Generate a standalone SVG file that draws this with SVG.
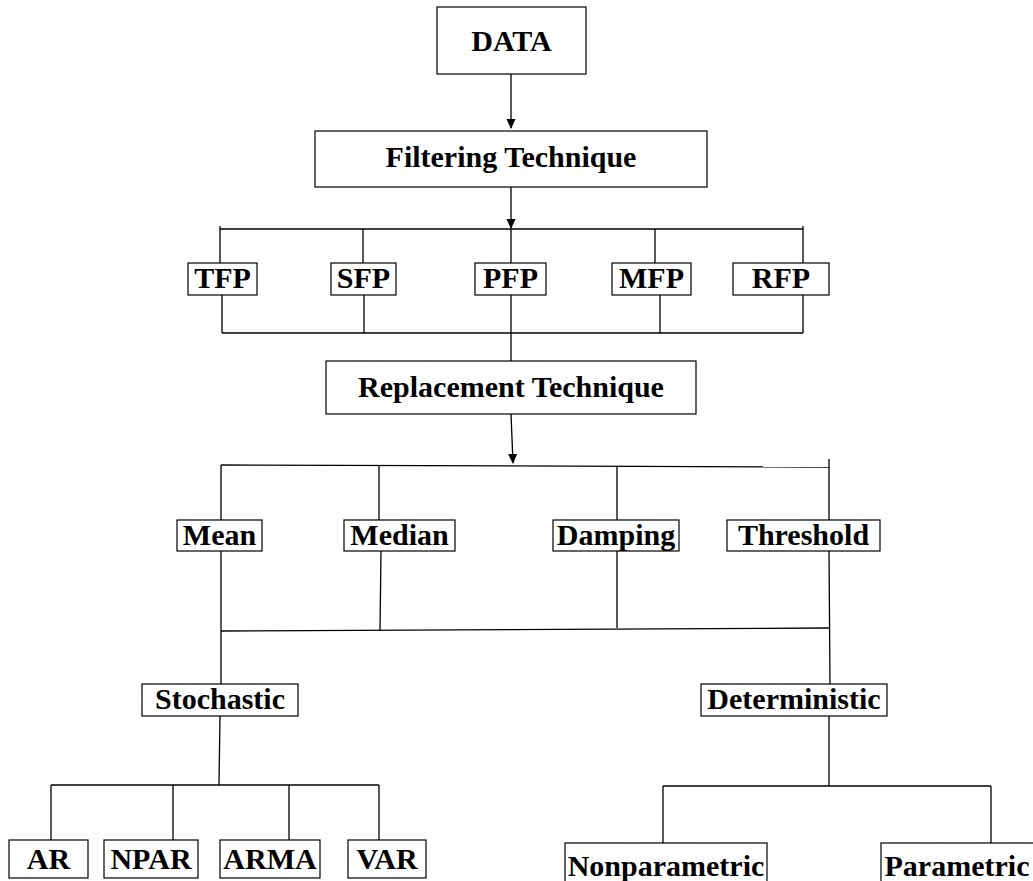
<svg xmlns="http://www.w3.org/2000/svg" width="1033" height="881" viewBox="0 0 1033 881">
<defs>
<marker id="arr" markerWidth="10" markerHeight="10" refX="9" refY="4.5" orient="auto" markerUnits="userSpaceOnUse">
<path d="M0,0 L10,4.5 L0,9 Z" fill="#000"/>
</marker>
<style>
.box{fill:#fff;stroke:#000;stroke-width:1.2}
.lbl{font-family:"Liberation Serif","Times New Roman",serif;font-weight:bold;font-size:30px;fill:#000;text-anchor:middle}
.ln{fill:none;stroke:#000;stroke-width:1.3}
</style>
</defs>
<rect width="1033" height="881" fill="#fff"/>
<g id="connectors">
<path class="ln" d="M511,74 L511,128" marker-end="url(#arr)"/>
<path class="ln" d="M511,187 L511,228" marker-end="url(#arr)"/>
<path class="ln" d="M220,229 L803,229"/>
<path class="ln" d="M220,226 L220,263 M363,229 L363,263 M511,229 L511,263 M655,229 L655,263 M803,226 L803,263"/>
<path class="ln" d="M222,295 L222,333 M364,295 L364,333 M511,295 L511,361 M660,295 L660,333 M803,295 L803,333"/>
<path class="ln" d="M222,333 L803,333"/>
<path class="ln" d="M511,414 L513,463" marker-end="url(#arr)"/>
<path class="ln" d="M221,465 L829,467"/>
<path class="ln" d="M221,465 L221,520 M379,465 L379,520 M617,466 L617,520 M829,459 L829,520"/>
<path class="ln" d="M221,551 L221,684 M381,551 L380,631 M617,551 L617,628 M829,551 L830,684"/>
<path class="ln" d="M221,631 L829,628"/>
<path class="ln" d="M220,716 L219,785"/>
<path class="ln" d="M51,785 L379,785"/>
<path class="ln" d="M51,785 L51,840 M173,785 L173,840 M289,785 L289,840 M379,785 L379,840"/>
<path class="ln" d="M829,716 L829,786"/>
<path class="ln" d="M663,786 L991,786"/>
<path class="ln" d="M663,786 L663,843 M991,786 L991,843"/>
</g>
<g id="n-data"><rect class="box" x="437" y="7" width="149" height="67"/><text class="lbl" x="511.5" y="51">DATA</text></g>
<g id="n-filter"><rect class="box" x="315" y="131" width="392" height="56"/><text class="lbl" x="511" y="167">Filtering Technique</text></g>
<g id="n-tfp"><rect class="box" x="188" y="263" width="69" height="32"/><text class="lbl" x="222.5" y="288">TFP</text></g>
<g id="n-sfp"><rect class="box" x="331" y="263" width="65" height="32"/><text class="lbl" x="363.5" y="288">SFP</text></g>
<g id="n-pfp"><rect class="box" x="475" y="263" width="71" height="32"/><text class="lbl" x="510.5" y="288">PFP</text></g>
<g id="n-mfp"><rect class="box" x="612" y="263" width="79" height="32"/><text class="lbl" x="651.5" y="288">MFP</text></g>
<g id="n-rfp"><rect class="box" x="733" y="263" width="96" height="32"/><text class="lbl" x="781" y="288">RFP</text></g>
<g id="n-replace"><rect class="box" x="326" y="361" width="370" height="53"/><text class="lbl" x="511" y="397">Replacement Technique</text></g>
<g id="n-mean"><rect class="box" x="177" y="520" width="85" height="31"/><text class="lbl" x="219.5" y="545">Mean</text></g>
<g id="n-median"><rect class="box" x="344" y="520" width="111" height="31"/><text class="lbl" x="399.5" y="545">Median</text></g>
<g id="n-damping"><rect class="box" x="553" y="520" width="126" height="31"/><text class="lbl" x="616" y="545">Damping</text></g>
<g id="n-threshold"><rect class="box" x="727" y="520" width="153" height="31"/><text class="lbl" x="803.5" y="545">Threshold</text></g>
<g id="n-stochastic"><rect class="box" x="142" y="684" width="156" height="32"/><text class="lbl" x="220" y="709">Stochastic</text></g>
<g id="n-deterministic"><rect class="box" x="701" y="684" width="186" height="32"/><text class="lbl" x="794" y="709">Deterministic</text></g>
<g id="n-ar"><rect class="box" x="9" y="840" width="79" height="38"/><text class="lbl" x="48.5" y="869">AR</text></g>
<g id="n-npar"><rect class="box" x="104" y="840" width="94" height="38"/><text class="lbl" x="151" y="869">NPAR</text></g>
<g id="n-arma"><rect class="box" x="220" y="840" width="100" height="38"/><text class="lbl" x="270" y="869">ARMA</text></g>
<g id="n-var"><rect class="box" x="348" y="840" width="78" height="38"/><text class="lbl" x="387" y="869">VAR</text></g>
<g id="n-nonparametric"><rect class="box" x="565" y="843" width="202" height="45"/><text class="lbl" x="666" y="876">Nonparametric</text></g>
<g id="n-parametric"><rect class="box" x="881" y="843" width="160" height="45"/><text class="lbl" x="957" y="876">Parametric</text></g>
</svg>
